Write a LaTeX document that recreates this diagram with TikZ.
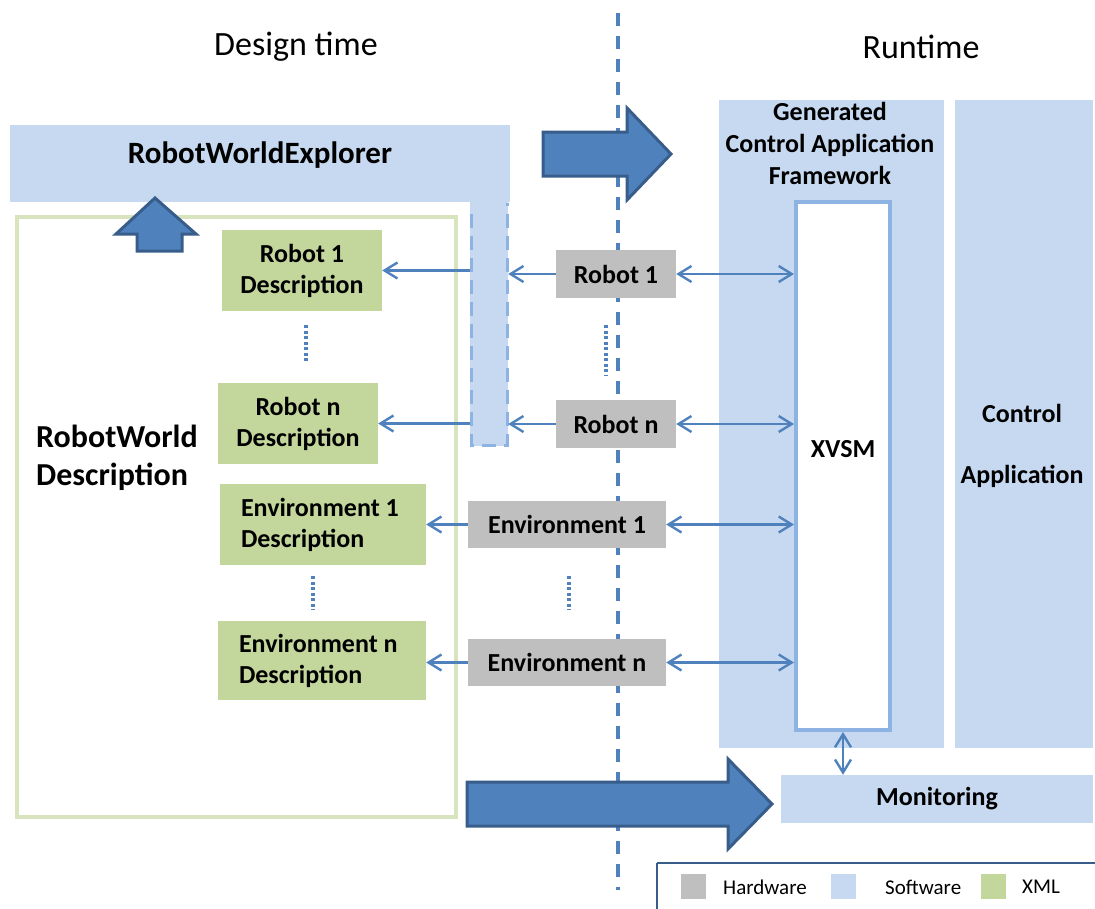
\documentclass[tikz,border=0pt]{standalone}
\usepackage{fontspec}
\setmainfont{Carlito}
\usetikzlibrary{arrows.meta}

\definecolor{swfill}{HTML}{C6D9F1}
\definecolor{hwfill}{HTML}{BFBFBF}
\definecolor{xmlfill}{HTML}{C3D69B}
\definecolor{xmledge}{HTML}{D7E4BD}
\definecolor{linkblue}{HTML}{4F81BD}
\definecolor{arrowedge}{HTML}{385D8A}
\definecolor{paleedge}{HTML}{8DB3E2}

\tikzset{
  bigfont/.style={font=\fontsize{26}{31}\selectfont\bfseries},
  xmlbox/.style={fill=xmlfill, inner sep=0pt, align=center, bigfont},
  hwbox/.style={fill=hwfill, inner sep=0pt, align=center, bigfont},
  swbox/.style={fill=swfill, inner sep=0pt, align=center, bigfont},
  link/.style={draw=linkblue, line width=2.4pt,
    arrows={-Straight Barb[length=13pt,width=16pt,line width=2.4pt]}},
  dlink/.style={draw=linkblue, line width=2.4pt,
    arrows={Straight Barb[length=13pt,width=16pt,line width=2.4pt]-Straight Barb[length=13pt,width=16pt,line width=2.4pt]}},
  ellipsis/.style={draw=linkblue, line width=3.5pt, dash pattern=on 3pt off 2.5pt},
  blockarrow/.style={fill=linkblue, draw=arrowedge, line width=3pt, line join=miter},
  legendtext/.style={font=\fontsize{21}{25}\selectfont, anchor=west, inner sep=0pt},
}

\begin{document}
\begin{tikzpicture}[x=1pt, y=-1pt]
\useasboundingbox (0,0) rectangle (1095,908);

% headings
\node[font=\fontsize{34}{40}\selectfont] (design) at (296,47) {Design time};
\node[font=\fontsize{34}{40}\selectfont] (runtime) at (921,47) {Runtime};

% RobotWorldExplorer: L-shaped software block
\fill[swfill] (10,125) rectangle (510,202);
\node[fill=swfill, minimum width=38pt, minimum height=244pt, inner sep=0pt] (bar) at (489,324) {};
\draw[paleedge, line width=3pt, dash pattern=on 14pt off 8pt] (471,214) -- (471,445) -- (507,445) -- (507,203);
\node[bigfont, font=\fontsize{31}{36}\selectfont\bfseries] (rwe) at (260,155) {RobotWorldExplorer};

% RobotWorld description frame
\draw[xmledge, line width=4pt] (17,217) rectangle (456,817);
\node[font=\fontsize{32}{38}\selectfont\bfseries, align=left, anchor=north west, inner sep=0pt] (rwd) at (36,425) {RobotWorld\\Description};

% up arrow into the explorer
\draw[blockarrow] (155,198) -- (196,234) -- (182,234) -- (182,251) -- (137,251) -- (137,234) -- (116,234) -- cycle;

% time divider
\draw[linkblue, line width=4pt, dash pattern=on 13pt off 10pt] (617.5,13) -- (617.5,890);

% XML descriptions
\node[xmlbox, minimum width=160pt, minimum height=81pt] (d1) at (302,270.5) {Robot 1\\Description};
\node[xmlbox, minimum width=160pt, minimum height=81pt] (dn) at (298,423.5) {Robot n\\Description};
\node[xmlbox, minimum width=206pt, minimum height=81pt, align=flush left, text width=164pt] (ed1) at (323,524.5) {Environment 1\\Description};
\node[xmlbox, minimum width=208pt, minimum height=79pt, align=flush left, text width=166pt] (edn) at (322,660.5) {Environment n\\Description};

% hardware
\node[hwbox, minimum width=120pt, minimum height=48pt] (r1) at (616,274) {Robot 1};
\node[hwbox, minimum width=120pt, minimum height=48pt] (rn) at (616,424) {Robot n};
\node[hwbox, minimum width=198pt, minimum height=47pt] (e1) at (567,524.5) {Environment 1};
\node[hwbox, minimum width=198pt, minimum height=47pt] (en) at (567,662.5) {Environment n};

% ellipses between items
\draw[ellipsis] (306,325) -- (306,362);
\draw[ellipsis] (313,576) -- (313,610);
\draw[ellipsis] (606,325) -- (606,375);
\draw[ellipsis] (569,576) -- (569,610);

% runtime software
\node[swbox, minimum width=225pt, minimum height=648pt] (gcaf) at (831.5,424) {};
\node[font=\fontsize{26}{32}\selectfont\bfseries, align=center, anchor=north] (gcaflbl) at (830,99) {Generated\\Control Application\\Framework};
\node[swbox, minimum width=138pt, minimum height=648pt] (ctrl) at (1024,424) {};
\node[bigfont] (ctrl1) at (1022,413) {Control};
\node[bigfont] (ctrl2) at (1022,476) {Application};
\node[draw=paleedge, fill=white, line width=4pt, minimum width=94pt, minimum height=528pt, inner sep=0pt] (xvsm) at (843,466) {};
\node[bigfont] (xvsmlbl) at (843,449) {XVSM};
\node[swbox, minimum width=312pt, minimum height=48pt] (mon) at (937,799) {Monitoring};

% connectors
\draw[link] (r1.west) -- (r1.west -| bar.east);
\draw[link] (rn.west) -- (rn.west -| bar.east);
\draw[link] (d1.east -| bar.west) -- (d1.east);
\draw[link] (dn.east -| bar.west) -- (dn.east);
\draw[link] (e1.west) -- (e1.west -| ed1.east);
\draw[link] (en.west) -- (en.west -| edn.east);
\draw[dlink] (r1.east) -- (r1.east -| xvsm.west);
\draw[dlink] (rn.east) -- (rn.east -| xvsm.west);
\draw[dlink] (e1.east) -- (e1.east -| xvsm.west);
\draw[dlink] (en.east) -- (en.east -| xvsm.west);
\draw[dlink] (xvsm.south) -- (mon.north -| xvsm.south);

% transition arrows
\draw[blockarrow] (543,132) -- (627,132) -- (627,108) -- (671,154) -- (627,200) -- (627,176) -- (543,176) -- cycle;
\draw[blockarrow] (467,782) -- (728,782) -- (728,759) -- (772,804) -- (728,849) -- (728,826) -- (467,826) -- cycle;

% legend
\draw[arrowedge, line width=2pt] (657,863) -- (1100,863) (657,863) -- (657,910);
\fill[hwfill] (681,874) rectangle (706,899);
\node[legendtext] (lhw) at (723,887) {Hardware};
\fill[swfill] (831,874) rectangle (856,899);
\node[legendtext] (lsw) at (885,887) {Software};
\fill[xmlfill] (981,874) rectangle (1006,899);
\node[legendtext] (lxml) at (1022,887) {XML};
\end{tikzpicture}
\end{document}
